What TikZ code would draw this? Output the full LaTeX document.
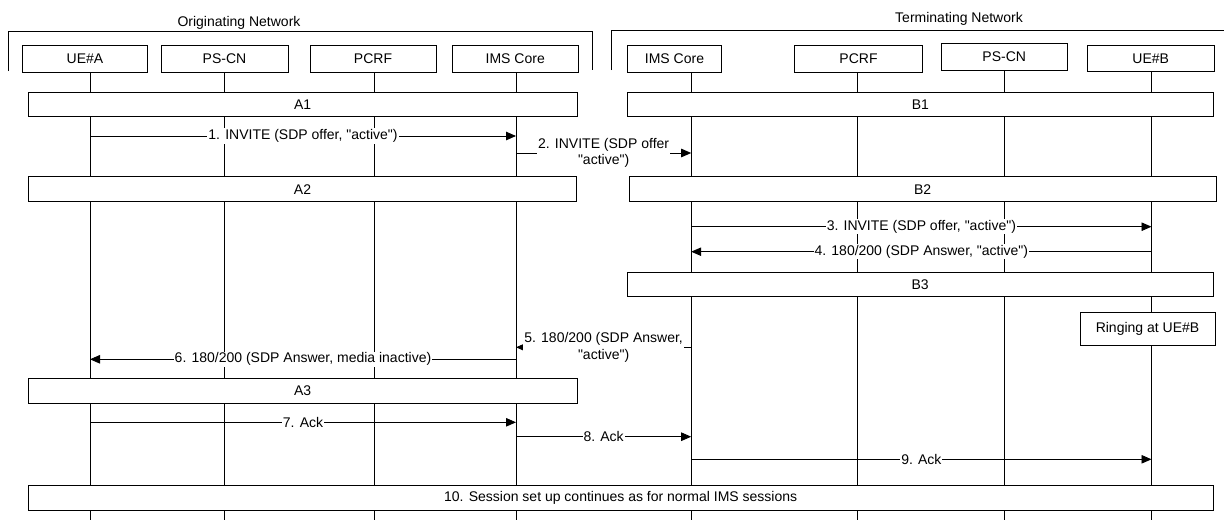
\documentclass[tikz,border=0pt]{standalone}
\usepackage{fontspec}
\setmainfont{Liberation Sans}[Ligatures=TeXOff]
\usetikzlibrary{arrows.meta}
\begin{document}
\begin{tikzpicture}[x=1pt,y=-1pt,
  every node/.style={font=\fontsize{14}{16.7}\selectfont},
  entity/.style={draw, line width=0.9pt, fill=white, minimum height=26.6pt, inner sep=0pt},
  phase/.style={draw, line width=0.9pt, fill=white, inner sep=0pt, minimum height=24pt},
  bracket/.style={line width=0.9pt},
  life/.style={line width=0.9pt},
  msg/.style={line width=0.9pt, -{Triangle[length=10pt,width=8.5pt]}},
  lbl/.style={fill=white, inner sep=1pt, align=center}]
\useasboundingbox (0,0) rectangle (1224,520);

% network headers
\node[anchor=base] (orig) at (239,26.5) {Originating Network};
\node[anchor=base] (term) at (959,22.5) {Terminating Network};
\draw[bracket] (8,71) -- (8,31) -- (592,31) -- (592,70);
\draw[bracket] (611,70) -- (611,30) -- (1224,30);

% entities
\node[entity, minimum width=125.4pt] (ueA)   at (85,59)      {UE\#A};
\node[entity, minimum width=127pt]   (pscnA) at (224.5,59)   {PS-CN};
\node[entity, minimum width=126pt]   (pcrfA) at (373,59)     {PCRF};
\node[entity, minimum width=126.5pt] (imsA)  at (515.25,59)  {IMS Core};
\node[entity, minimum width=93.7pt]  (imsB)  at (674.5,59)   {IMS Core};
\node[entity, minimum width=127.6pt] (pcrfB) at (858.5,59)   {PCRF};
\node[entity, minimum width=126.5pt, minimum height=27.4pt] (pscnB) at (1004.25,57) {PS-CN};
\node[entity, minimum width=126.6pt] (ueB)   at (1150.7,58.3){UE\#B};

% lifeline feet
\coordinate (lA)   at (90,520);
\coordinate (lPA)  at (224.4,520);
\coordinate (lRA)  at (374,520);
\coordinate (lIA)  at (516,520);
\coordinate (lIB)  at (691.2,520);
\coordinate (lRB)  at (857.9,520);
\coordinate (lPB)  at (1004.3,520);
\coordinate (lB)   at (1151.5,520);

\draw[life] (ueA.south -| lA) -- (lA);
\draw[life] (pscnA.south -| lPA) -- (lPA);
\draw[life] (pcrfA.south -| lRA) -- (lRA);
\draw[life] (imsA.south -| lIA) -- (lIA);
\draw[life] (imsB.south -| lIB) -- (lIB);
\draw[life] (pcrfB.south -| lRB) -- (lRB);
\draw[life] (pscnB.south -| lPB) -- (lPB);
\draw[life] (ueB.south -| lB) -- (lB);

% message levels
\coordinate (m1) at (0,136);
\coordinate (m2) at (0,153);
\coordinate (m3) at (0,226.7);
\coordinate (m4) at (0,251.7);
\coordinate (m5) at (0,347.3);
\coordinate (m6) at (0,359.3);
\coordinate (m7) at (0,422.3);
\coordinate (m8) at (0,436.7);
\coordinate (m9) at (0,459.3);

% messages
\draw[msg] (lA |- m1) -- node[lbl] {1. INVITE (SDP offer, "active")} (lIA |- m1);
\draw[msg] (lIA |- m2) -- node[lbl] {2. INVITE (SDP offer\\"active")} (lIB |- m2);
\draw[msg] (lIB |- m3) -- node[lbl] {3. INVITE (SDP offer, "active")} (lB |- m3);
\draw[msg] (lB |- m4) -- node[lbl] {4. 180/200 (SDP Answer, "active")} (lIB |- m4);
\draw[msg] (lIB |- m5) -- node[lbl] {5. 180/200 (SDP Answer,\\"active")} (lIA |- m5);
\draw[msg] (lIA |- m6) -- node[lbl] {6. 180/200 (SDP Answer, media inactive)} (lA |- m6);
\draw[msg] (lA |- m7) -- node[lbl] {7. Ack} (lIA |- m7);
\draw[msg] (lIA |- m8) -- node[lbl] {8. Ack} (lIB |- m8);
\draw[msg] (lIB |- m9) -- node[lbl] {9. Ack} (lB |- m9);

% procedure boxes
\node[phase, minimum width=548.7pt] (A1) at (302.65,104.7) {A1};
\node[phase, minimum width=585.7pt] (B1) at (920.45,104.7) {B1};
\node[phase, minimum width=548.4pt, minimum height=25pt] (A2) at (302.5,189.2) {A2};
\node[phase, minimum width=586.7pt, minimum height=25pt] (B2) at (922.65,189.2) {B2};
\node[phase, minimum width=586.3pt] (B3) at (920.15,284.7) {B3};
\node[phase, minimum width=135pt, minimum height=33pt] (ring) at (1147.5,328.5) {Ringing at UE\#B};
\node[phase, minimum width=548.7pt, minimum height=25pt] (A3) at (302.65,391) {A3};
\node[phase, minimum width=1184.7pt, minimum height=25pt] (S10) at (620.65,497.5) {10. Session set up continues as for normal IMS sessions};
\end{tikzpicture}
\end{document}
